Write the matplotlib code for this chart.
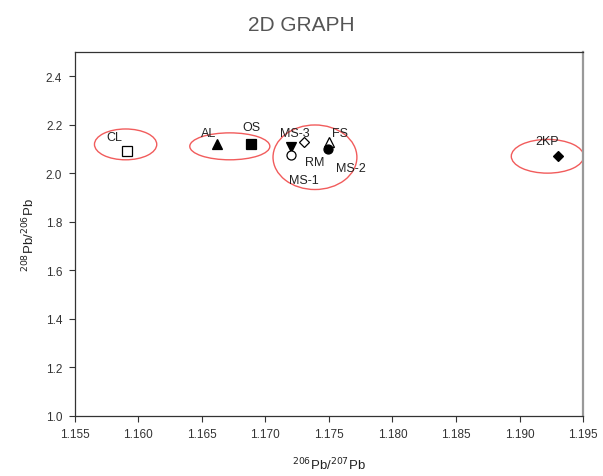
import matplotlib
matplotlib.use('Agg')
import matplotlib.pyplot as plt
from matplotlib.patches import Ellipse

# sample points: 206Pb/207Pb vs 208Pb/206Pb
names = ['CL', 'AL', 'OS', 'MS-3', 'MS-1', 'RM', 'FS', 'MS-2', '2KP']
x_vals = [1.1591, 1.1662, 1.1689, 1.1720, 1.1720, 1.1730, 1.1750, 1.1749, 1.1930]
y_vals = [2.09, 2.12, 2.12, 2.107, 2.074, 2.127, 2.127, 2.10, 2.07]
markers = ['s', '^', 's', 'v', 'o', 'D', '^', 'o', 'D']
filled = [False, True, True, True, False, False, False, True, True]

# label offsets (data units) so the text sits like in the original
label_dx = [-0.0010, -0.0007, 0.0000, 0.0003, 0.0010, 0.0009, 0.0009, 0.0018, -0.0008]
label_dy = [0.058, 0.048, 0.07, 0.06, -0.10, -0.08, 0.04, -0.08, 0.065]

# red rings around groups: center x, center y, width, height
ring_x = [1.1590, 1.1672, 1.1739, 1.1922]
ring_y = [2.119, 2.111, 2.066, 2.070]
ring_w = [0.0049, 0.0063, 0.0066, 0.0057]
ring_h = [0.127, 0.111, 0.266, 0.139]

plt.rcParams['font.family'] = ['Liberation Sans', 'DejaVu Sans']

fig = plt.figure(figsize=(6.03, 4.77), dpi=100)
ax = fig.add_axes([0.124, 0.126, 0.843, 0.763])

for x, y, m, f in zip(x_vals, y_vals, markers, filled):
    ax.plot(x, y, marker=m, markersize=6.5 if m != 'D' else 5.5,
            color='black', markerfacecolor='black' if f else 'white',
            markeredgewidth=0.9, linestyle='none', zorder=3)

for name, x, y, dx, dy in zip(names, x_vals, y_vals, label_dx, label_dy):
    ax.text(x + dx, y + dy, name, fontsize=9, color='#222222',
            ha='center', va='center', zorder=4)

for cx, cy, w, h in zip(ring_x, ring_y, ring_w, ring_h):
    ax.add_patch(Ellipse((cx, cy), w, h, fill=False, edgecolor='#ee3333',
                         linewidth=1.0, alpha=0.8, zorder=2))

ax.set_xlim(1.155, 1.195)
ax.set_ylim(1.0, 2.5)
ax.set_xticks([1.155, 1.160, 1.165, 1.170, 1.175, 1.180, 1.185, 1.190, 1.195])
ax.set_xticklabels(['1.155', '1.160', '1.165', '1.170', '1.175', '1.180',
                    '1.185', '1.190', '1.195'])
ax.set_yticks([1.0, 1.2, 1.4, 1.6, 1.8, 2.0, 2.2, 2.4])
ax.set_yticklabels(['1.0', '1.2', '1.4', '1.6', '1.8', '2.0', '2.2', '2.4'])
ax.tick_params(axis='both', labelsize=8.5, colors='#333333', length=4,
               width=0.8, direction='out', pad=5)
ax.tick_params(top=False, right=False)

for side in ['left', 'bottom', 'top']:
    ax.spines[side].set_color('#333333')
    ax.spines[side].set_linewidth(0.9)
ax.spines['right'].set_color('#999999')
ax.spines['right'].set_linewidth(1.6)

ax.set_xlabel(r'$^{206}$Pb/$^{207}$Pb', fontsize=9.5, color='#222222', labelpad=11)
ax.set_ylabel(r'$^{208}$Pb/$^{206}$Pb', fontsize=9.5, color='#222222', labelpad=6)

fig.text(0.5, 0.947, '2D GRAPH', ha='center', va='center', fontsize=15,
         color='#555555')

fig.savefig('out.png', dpi=100)
